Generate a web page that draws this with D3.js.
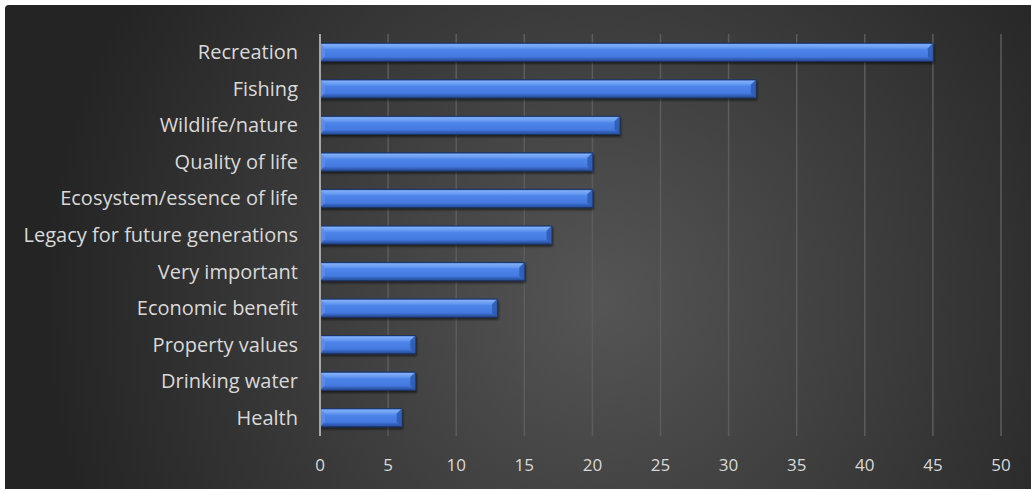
<!DOCTYPE html>
<html><head><meta charset="utf-8">
<script src="https://cdn.jsdelivr.net/npm/d3@7"></script>
<style>
html,body{margin:0;padding:0;background:#fff;}
svg{display:block;}
text{font-family:"Open Sans","Noto Sans",sans-serif;}
</style></head>
<body>
<svg id="chart" width="1031" height="489"></svg>
<script>
const categories = ["Recreation","Fishing","Wildlife/nature","Quality of life","Ecosystem/essence of life","Legacy for future generations","Very important","Economic benefit","Property values","Drinking water","Health"];
const values = [45,32,22,20,20,17,15,13,7,7,6];
const xTicks = [0,5,10,15,20,25,30,35,40,45,50];

const svg = d3.select("#chart");
const defs = svg.append("defs");
const bg = defs.append("radialGradient").attr("id","bg").attr("gradientUnits","userSpaceOnUse")
  .attr("cx",600).attr("cy",300).attr("r",560);
bg.append("stop").attr("offset","0%").attr("stop-color","#555555");
bg.append("stop").attr("offset","100%").attr("stop-color","#242424");

const bar = defs.append("linearGradient").attr("id","bar").attr("x1",0).attr("y1",0).attr("x2",0).attr("y2",1);
[[0,"#3463b8"],[0.08,"#80aef8"],[0.28,"#6196f0"],[0.35,"#4e85ea"],[0.75,"#4479e0"],[0.82,"#3868c8"],[1,"#264a92"]]
  .forEach(([o,c])=>bar.append("stop").attr("offset",o).attr("stop-color",c));

const shadow = defs.append("filter").attr("id","sh").attr("x","-5%").attr("y","-30%").attr("width","110%").attr("height","170%");
shadow.append("feDropShadow").attr("dx",1).attr("dy",2).attr("stdDeviation",1.2).attr("flood-color","#000").attr("flood-opacity",0.55);

svg.append("rect").attr("x",5).attr("y",5).attr("width",1030).attr("height",490).attr("rx",4).attr("fill","url(#bg)");

const x = d3.scaleLinear().domain([0,50]).range([320,1001]);
const y = d3.scaleBand().domain(categories).range([34,436]).paddingInner(0.5).paddingOuter(0.25);

// gridlines
svg.append("g").selectAll("line").data(xTicks.slice(1)).join("line")
  .attr("x1",d=>x(d)).attr("x2",d=>x(d)).attr("y1",34).attr("y2",436)
  .attr("stroke","#5c5c5c").attr("stroke-width",1.5);

// bars
const bh = y.bandwidth();
const g = svg.append("g");
g.selectAll("rect.b").data(values).join("rect").attr("class","b")
  .attr("x",x(0)).attr("y",(d,i)=>y(categories[i]))
  .attr("width",d=>x(d)-x(0)).attr("height",bh)
  .attr("fill","url(#bar)").attr("stroke","#1c3466").attr("stroke-width",1)
  .attr("filter","url(#sh)");
// bevel at right end (darker triangle)
g.selectAll("path.rb").data(values).join("path").attr("class","rb")
  .attr("d",(d,i)=>{const x1=x(d), y0=y(categories[i]), b=5;
    return `M${x1},${y0}L${x1-b},${y0+b}L${x1-b},${y0+bh-b}L${x1},${y0+bh}Z`;})
  .attr("fill","#2e5cb4").attr("opacity",0.9);
g.selectAll("path.lb").data(values).join("path").attr("class","lb")
  .attr("d",(d,i)=>{const x0=x(0), y0=y(categories[i]), b=5;
    return `M${x0},${y0}L${x0+b},${y0+b}L${x0+b},${y0+bh-b}L${x0},${y0+bh}Z`;})
  .attr("fill","#5a8df0").attr("opacity",0.8);

// axis line
svg.append("line").attr("x1",x(0)).attr("x2",x(0)).attr("y1",34).attr("y2",436)
  .attr("stroke","#a6a6a6").attr("stroke-width",2);

// category labels
svg.append("g").selectAll("text").data(categories).join("text")
  .attr("x",298).attr("y",d=>y(d)+bh/2).attr("dy","0.35em")
  .attr("text-anchor","end").attr("fill","#d9d9d9").attr("font-size",20).text(d=>d);

// tick labels
svg.append("g").selectAll("text").data(xTicks).join("text")
  .attr("x",d=>x(d)).attr("y",465).attr("dy","0.35em")
  .attr("text-anchor","middle").attr("fill","#d9d9d9").attr("font-size",17).text(d=>d);
</script>
</body></html>
